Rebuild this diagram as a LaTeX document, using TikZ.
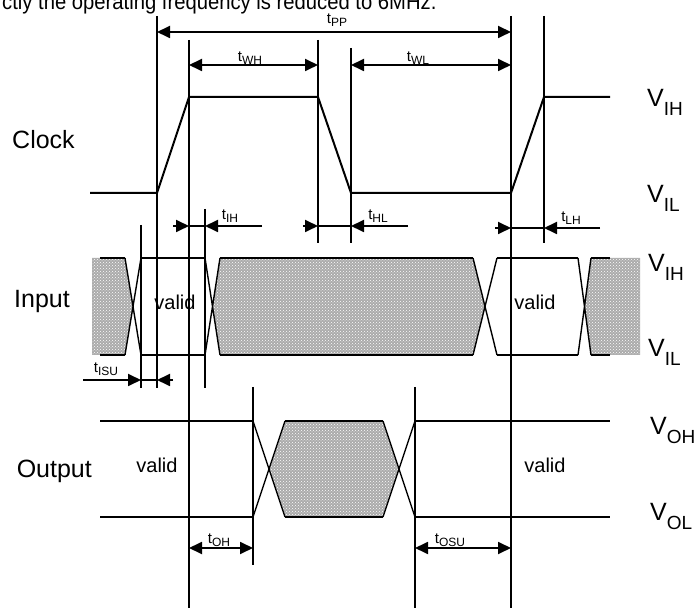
\documentclass[tikz,border=0pt]{standalone}
\usepackage{fontspec}
\setmainfont{Liberation Sans}
\usetikzlibrary{arrows.meta}
\usetikzlibrary{patterns}

\newcommand{\tlab}[1]{t\raisebox{-3pt}{\fontsize{12}{12}\selectfont #1}}
\newcommand{\vlab}[1]{V\raisebox{-9pt}{\fontsize{19}{19}\selectfont #1}}

\begin{document}
\begin{tikzpicture}[x=1pt,y=-1pt,>={Triangle[length=13pt,width=12pt]},
                signal line/.style={line width=2pt},
                cross line/.style={line width=1.4pt},
                time line/.style={line width=1.8pt},
                dim arrow/.style={line width=1.8pt},
                hatch/.style={preaction={fill=black!33},pattern=crosshatch dots,pattern color=white},
                time label/.style={anchor=base,inner sep=0pt,font=\fontsize{15}{15}\selectfont},
                level label/.style={anchor=base west,inner sep=0pt,font=\fontsize{25}{25}\selectfont},
                name label/.style={anchor=base west,inner sep=0pt,font=\fontsize{25}{25}\selectfont},
                valid label/.style={anchor=base,inner sep=0pt,font=\fontsize{20}{20}\selectfont}]

  \useasboundingbox (0,0) rectangle (699,609);

  % end of the text line above the figure
  \node[anchor=base west,inner sep=0pt,font=\fontsize{22}{22}\selectfont] (note) at (2,10)
    {\scalebox{0.92}[1]{ctly the operating frequency is reduced to 6MHz.}};

  % vertical time lines
  \foreach \x/\a/\b in {141/225/388, 157/16/388, 189/40/608, 205/209/388, 253/387/565,
                        318/40/243, 351/48/243, 415/387/608, 511/16/608, 544/16/243}
    \draw[time line] (\x,\a) -- (\x,\b);

  % clock
  \draw[signal line] (90,193) -- (157,193) -- (189,97) -- (318,97) -- (351,193)
                     -- (511,193) -- (544,97) -- (610,97);

  % input
  \fill[hatch] (92,258) -- (125,258) -- (133,306.5) -- (125,355) -- (92,355) -- cycle;
  \fill[hatch] (220,258) -- (473,258) -- (485,306.5) -- (473,355) -- (220,355) -- (212.5,306.5) -- cycle;
  \fill[hatch] (591,258) -- (640,258) -- (640,355) -- (591,355) -- (584.5,306.5) -- cycle;
  \foreach \a/\b in {100/125, 141/205, 220/473, 497/578, 591/610}
    \draw[signal line] (\a,258) -- (\b,258) (\a,355) -- (\b,355);
  \foreach \a/\b in {125/141, 205/220, 473/497, 578/591}
    \draw[cross line] (\a,258) -- (\b,355) (\a,355) -- (\b,258);

  % output
  \fill[hatch] (285,421) -- (383,421) -- (399,469) -- (383,517) -- (285,517) -- (269,469) -- cycle;
  \foreach \a/\b in {100/253, 285/383, 415/610}
    \draw[signal line] (\a,421) -- (\b,421) (\a,517) -- (\b,517);
  \foreach \a/\b in {253/285, 383/415}
    \draw[cross line] (\a,421) -- (\b,517) (\a,517) -- (\b,421);

  % widths
  \draw[dim arrow,<->] (157,32) -- (511,32);
  \draw[dim arrow,<->] (189,65) -- (318,65);
  \draw[dim arrow,<->] (351,65) -- (511,65);
  \draw[dim arrow,<->] (189,548) -- (253,548);
  \draw[dim arrow,<->] (415,548) -- (511,548);

  % edges: arrows from outside
  \foreach \y/\l/\a/\b/\r in {226/173/189/205/262, 226/303/318/351/408,
                              228/495/511/544/600, 380/83/141/157/173} {
    \draw[dim arrow,->] (\l,\y) -- (\a,\y);
    \draw[dim arrow] (\a,\y) -- (\b,\y);
    \draw[dim arrow,->] (\r,\y) -- (\b,\y);
  }

  % time labels
  \node[time label] (tpp)  at (337,24)  {\tlab{PP}};
  \node[time label] (twh)  at (250,62)  {\tlab{WH}};
  \node[time label] (twl)  at (418,62)  {\tlab{WL}};
  \node[time label] (tih)  at (230,220) {\tlab{IH}};
  \node[time label] (thl)  at (378,220) {\tlab{HL}};
  \node[time label] (tlh)  at (571,222) {\tlab{LH}};
  \node[time label] (tisu) at (106,373) {\tlab{ISU}};
  \node[time label] (toh)  at (219,543) {\tlab{OH}};
  \node[time label] (tosu) at (450,543) {\tlab{OSU}};

  % levels
  \node[level label] (vih1) at (647,107) {\vlab{IH}};
  \node[level label] (vil1) at (647,203) {\vlab{IL}};
  \node[level label] (vih2) at (648,272) {\vlab{IH}};
  \node[level label] (vil2) at (648,357) {\vlab{IL}};
  \node[level label] (voh)  at (650,435) {\vlab{OH}};
  \node[level label] (vol)  at (650,520) {\vlab{OL}};

  % signal names
  \node[name label] (clock) at (12,149) {Clock};
  \node[name label] (input) at (14,308) {Input};
  \node[name label,anchor=base east] (output) at (92,478) {Output};

  % valid windows
  \node[valid label] (valid1) at (175,310) {valid};
  \node[valid label] (valid2) at (535,310) {valid};
  \node[valid label] (valid3) at (157,472) {valid};
  \node[valid label] (valid4) at (545,472) {valid};

\end{tikzpicture}
\end{document}
